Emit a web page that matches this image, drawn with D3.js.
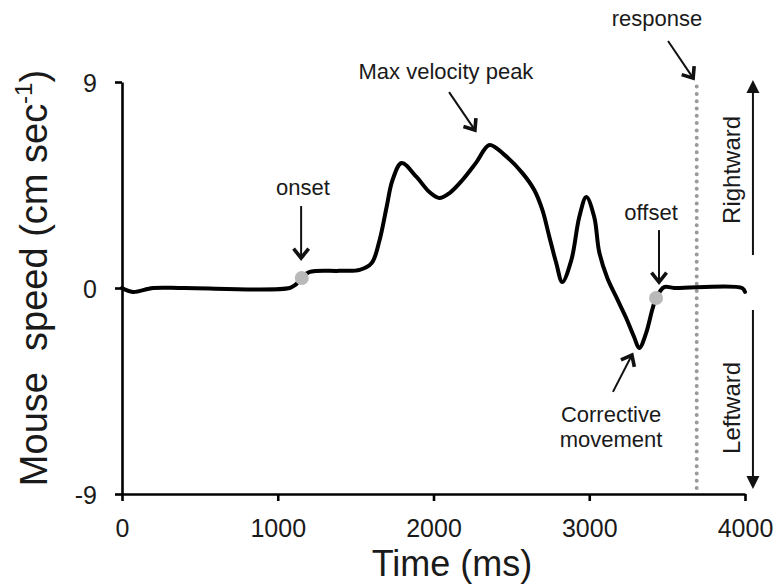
<!DOCTYPE html>
<html><head><meta charset="utf-8">
<script src="https://cdn.jsdelivr.net/npm/d3@7"></script>
<style>body{margin:0;background:#fff}svg{display:block;background:#fff}text{font-family:"Liberation Sans",Arial,sans-serif;fill:#1a1a1a}</style>
</head><body><svg id="c" width="775" height="584"></svg>
<script>
// ---- data ----
const timeMs = [0, 70, 199, 400, 1077, 1115, 1154, 1205, 1397, 1526, 1603, 1654, 1699, 1737, 1795, 1891, 1974, 2038, 2103, 2186, 2276, 2359, 2450, 2571, 2647, 2699, 2744, 2788, 2827, 2885, 2936, 2981, 3032, 3064, 3116, 3173, 3237, 3288, 3321, 3365, 3404, 3429, 3481, 3545, 3981, 4000];
const speed  = [0, -0.17, 0, 0, 0, 0.15, 0.44, 0.70, 0.75, 0.79, 1.09, 2.10, 3.54, 4.72, 5.46, 4.85, 4.19, 3.93, 4.15, 4.72, 5.5, 6.25, 5.85, 5.02, 4.28, 3.41, 2.23, 1.09, 0.26, 1.22, 3.10, 3.98, 3.10, 1.57, 0.44, -0.39, -1.31, -2.14, -2.62, -1.97, -0.96, -0.44, 0.04, 0, 0, -0.17];
const xTicks = [0, 1000, 2000, 3000, 4000];
const yTicks = [-9, 0, 9];
const eventNames = ["onset", "offset"];
const eventTimes = [1154, 3429];
const eventSpeeds = [0.44, -0.44];
const responseTime = 3690;
const responseTop = 8.8;
const annoTexts = [["Max velocity peak"], ["onset"], ["offset"], ["Corrective", "movement"], ["response"]];
const annoAt = [[2080, 9.13], [1162, 4.06], [3397, 2.97], [3140, -5.85], [3435, 11.45]];
const annoFrom = [[2100, 8.56], [1150, 3.58], [3448, 2.53], [3152, -4.54], [3506, 10.79]];
const annoTo = [[2266, 6.9], [1150, 1.31], [3448, 0.26], [3274, -2.93], [3667, 9.17]];
const dirTexts = ["Rightward", "Leftward"];
const dirTextAt = [[3917, 5.16], [3917, -5.24]];
const dirArrowT = 4051;
const dirFrom = [1.44, -0.96];
const dirTo = [9.09, -8.78];

// ---- scales ----
const svg = d3.select("#c");
const x = d3.scaleLinear().domain([0, 4000]).range([122, 745]);
const y = d3.scaleLinear().domain([-9, 9]).range([494, 82]);

// axes
const gx = svg.append("g").attr("transform", `translate(0,${y(-9)})`)
  .call(d3.axisBottom(x).tickValues(xTicks).tickSize(7).tickSizeOuter(0).tickPadding(18).tickFormat(d => String(d)));
const gy = svg.append("g").attr("transform", `translate(${x(0)},0)`)
  .call(d3.axisLeft(y).tickValues(yTicks).tickSize(7).tickSizeOuter(0).tickPadding(18).tickFormat(d => String(d)));
[gx, gy].forEach(g => {
  g.select(".domain").attr("stroke", "#000").attr("stroke-width", 2.6);
  g.selectAll(".tick line").attr("stroke", "#000").attr("stroke-width", 2.6);
  g.selectAll(".tick text").attr("font-size", 25).attr("fill", "#1a1a1a")
    .style("font-family", '"Liberation Sans",Arial,sans-serif');
});
gy.selectAll(".tick text").attr("dy", "0.36em");

// axis titles
svg.append("text").attr("x", 452).attr("y", 576).attr("text-anchor", "middle")
  .attr("font-size", 36).text("Time (ms)");
const yl = svg.append("text").attr("transform", "translate(47,278) rotate(-90)")
  .attr("text-anchor", "middle").attr("font-size", 38);
yl.append("tspan").text("Mouse\u00a0 speed (cm sec");
yl.append("tspan").attr("font-size", 24).attr("dy", -15).text("-1");
yl.append("tspan").attr("dy", 15).text(")");

// response dotted line
svg.append("line").attr("x1", x(responseTime)).attr("x2", x(responseTime))
  .attr("y1", y(responseTop)).attr("y2", y(-9))
  .attr("stroke", "#9a9a9a").attr("stroke-width", 4).attr("stroke-linecap", "round")
  .attr("stroke-dasharray", "0,7.3");

// curve
const pts = timeMs.map((t, i) => [t, speed[i]]);
svg.append("path").datum(pts)
  .attr("d", d3.line().x(d => x(d[0])).y(d => y(d[1])).curve(d3.curveCatmullRom.alpha(0.5)))
  .attr("fill", "none").attr("stroke", "#000").attr("stroke-width", 4)
  .attr("stroke-linejoin", "round").attr("stroke-linecap", "round");

// event dots
svg.selectAll("circle.ev").data(eventNames).join("circle").attr("class", "ev")
  .attr("cx", (d, i) => x(eventTimes[i])).attr("cy", (d, i) => y(eventSpeeds[i]))
  .attr("r", 7).attr("fill", "#b9b9b9");

// annotations with open-V arrowheads
function vArrow(x1, y1, x2, y2) {
  const g = svg.append("g");
  g.append("line").attr("x1", x1).attr("y1", y1).attr("x2", x2).attr("y2", y2)
    .attr("stroke", "#111").attr("stroke-width", 2);
  const a = Math.atan2(y2 - y1, x2 - x1), L = 12, s = 0.68;
  const p1 = [x2 - L * Math.cos(a - s), y2 - L * Math.sin(a - s)];
  const p2 = [x2 - L * Math.cos(a + s), y2 - L * Math.sin(a + s)];
  g.append("path").attr("d", `M${p1}L${x2},${y2}L${p2}`)
    .attr("fill", "none").attr("stroke", "#111").attr("stroke-width", 3.6)
    .attr("stroke-linejoin", "miter");
}
annoTexts.forEach((lines, i) => {
  const t = svg.append("text").attr("text-anchor", "middle").attr("font-size", 22);
  lines.forEach((ln, j) => t.append("tspan").attr("x", x(annoAt[i][0]))
    .attr("y", y(annoAt[i][1]) + j * 25).text(ln));
  vArrow(x(annoFrom[i][0]), y(annoFrom[i][1]), x(annoTo[i][0]), y(annoTo[i][1]));
});

// direction arrows
dirTexts.forEach((txt, i) => {
  const ax = x(dirArrowT), y1 = y(dirFrom[i]), y2 = y(dirTo[i]);
  const dir = Math.sign(y2 - y1);
  svg.append("line").attr("x1", ax).attr("x2", ax).attr("y1", y1).attr("y2", y2 - dir * 10)
    .attr("stroke", "#111").attr("stroke-width", 2);
  svg.append("path").attr("d", `M${ax - 6.5},${y2 - dir * 13}L${ax + 6.5},${y2 - dir * 13}L${ax},${y2}Z`)
    .attr("fill", "#111");
  svg.append("text").attr("transform", `translate(${x(dirTextAt[i][0]) + 8},${y(dirTextAt[i][1])}) rotate(-90)`)
    .attr("text-anchor", "middle").attr("font-size", 24).text(txt);
});
</script></body></html>
